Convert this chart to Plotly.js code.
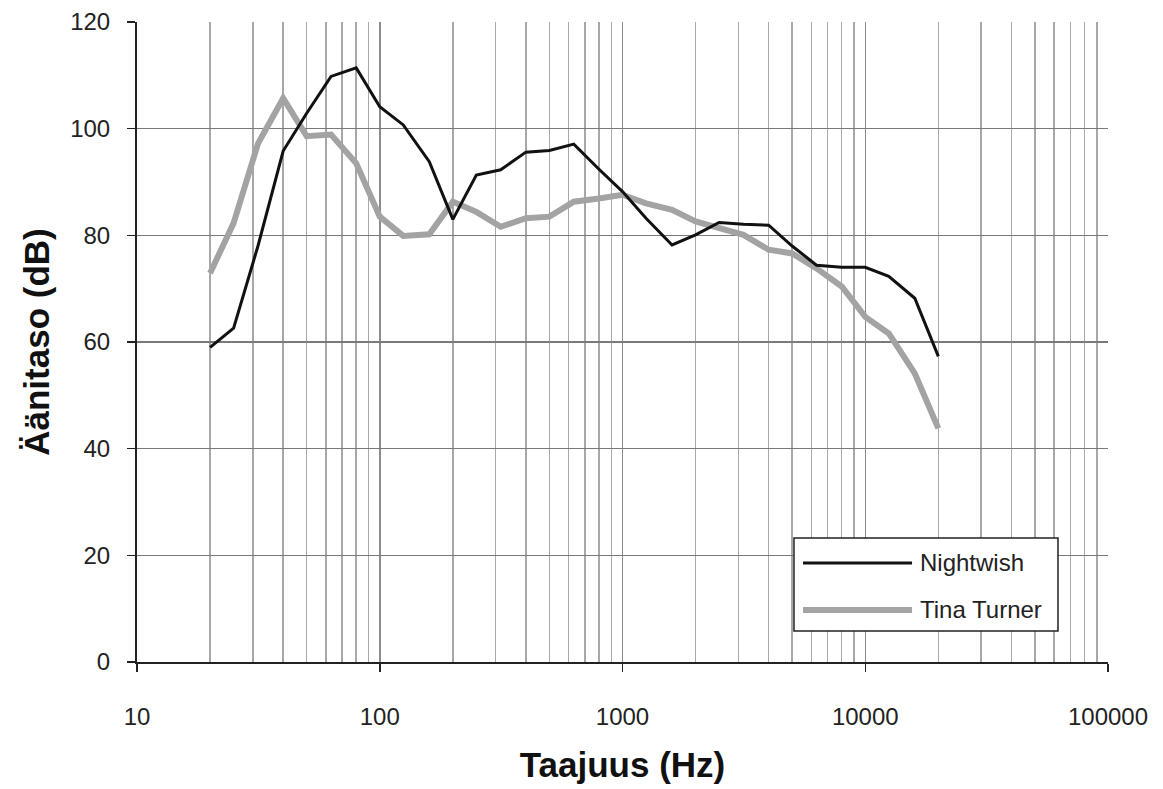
<!DOCTYPE html>
<html>
<head>
<meta charset="utf-8">
<script src="https://cdn.plot.ly/plotly-3.0.1.min.js"></script>
<style>html,body{margin:0;padding:0;background:#fff;}#chart{width:1163px;height:789px;}</style>
</head>
<body>
<div id="chart"></div>
<script>
// Third-octave band centre frequencies (Hz)
const frequencies = [20, 25, 31.5, 40, 50, 63, 80, 100, 125, 160, 200, 250, 315, 400, 500, 630, 800, 1000, 1250, 1600, 2000, 2500, 3150, 4000, 5000, 6300, 8000, 10000, 12500, 16000, 20000];
// Sound level (dB)
const nightwish = [59, 62.6, 78, 95.8, 102.9, 109.8, 111.4, 104.1, 100.7, 93.8, 83, 91.3, 92.3, 95.6, 95.9, 97.1, 92.4, 88.2, 83.2, 78.2, 80.1, 82.4, 82.1, 81.9, 78, 74.4, 74, 74, 72.3, 68.2, 57.3];
const tinaTurner = [72.9, 82.3, 97.2, 105.7, 98.6, 98.9, 93.5, 83.5, 79.9, 80.2, 86.3, 84.4, 81.6, 83.2, 83.5, 86.3, 86.9, 87.6, 86, 84.8, 82.6, 81.5, 80.1, 77.3, 76.6, 73.8, 70.4, 64.7, 61.6, 54.1, 43.8];
const seriesNames = ["Nightwish", "Tina Turner"];
const xTickVals = [10, 100, 1000, 10000, 100000];
const xTickText = ["10", "100", "1000", "10000", "100000"];

const FONT = "Liberation Sans, Arial, sans-serif";

const traces = [
  {x: frequencies, y: tinaTurner, name: seriesNames[1], type: "scatter", mode: "lines",
   line: {color: "#a3a3a3", width: 6}},
  {x: frequencies, y: nightwish, name: seriesNames[0], type: "scatter", mode: "lines",
   line: {color: "#111111", width: 3}}
];

// custom legend (paper coordinates)
const lx0 = 0.6766, lx1 = 0.9485, ly0 = 0.0484, ly1 = 0.1938;
const shapes = [
  {type: "rect", xref: "paper", yref: "paper", x0: lx0, x1: lx1, y0: ly0, y1: ly1,
   line: {color: "#222", width: 1.5}, fillcolor: "#ffffff", layer: "above"},
  {type: "line", xref: "paper", yref: "paper", x0: 0.6859, x1: 0.7982, y0: 0.1547, y1: 0.1547,
   line: {color: "#111111", width: 3}, layer: "above"},
  {type: "line", xref: "paper", yref: "paper", x0: 0.6859, x1: 0.7982, y0: 0.0813, y1: 0.0813,
   line: {color: "#a3a3a3", width: 6}, layer: "above"}
];
const annotations = [
  {xref: "paper", yref: "paper", x: 0.8043, y: 0.1547, xanchor: "left", yanchor: "middle",
   text: seriesNames[0], showarrow: false, font: {family: FONT, size: 24, color: "#222"}},
  {xref: "paper", yref: "paper", x: 0.8043, y: 0.0813, xanchor: "left", yanchor: "middle",
   text: seriesNames[1], showarrow: false, font: {family: FONT, size: 24, color: "#222"}}
];

const layout = {
  width: 1163, height: 789,
  margin: {l: 137, r: 55, t: 22, b: 127},
  paper_bgcolor: "#ffffff", plot_bgcolor: "#ffffff",
  showlegend: false,
  font: {family: FONT, color: "#222"},
  xaxis: {
    type: "log", range: [1, 5],
    tickvals: xTickVals, ticktext: xTickText,
    ticks: "outside", ticklen: 8, tickwidth: 1.5, tickcolor: "#222",
    ticklabelstandoff: 24,
    tickfont: {family: FONT, size: 24, color: "#222"},
    showgrid: true, gridcolor: "#8c8c8c", gridwidth: 1.5,
    minor: {dtick: "D1", showgrid: true, gridcolor: "#a8a8a8", gridwidth: 1.5, ticks: ""},
    showline: true, linecolor: "#222", linewidth: 2,
    zeroline: false,
    title: {text: "Taajuus (Hz)", standoff: 24, font: {family: FONT, size: 35, color: "#111", weight: "bold"}}
  },
  yaxis: {
    range: [0, 120], dtick: 20, tick0: 0,
    ticks: "outside", ticklen: 8, tickwidth: 1.5, tickcolor: "#222",
    ticklabelstandoff: 12,
    tickfont: {family: FONT, size: 24, color: "#222"},
    showgrid: true, gridcolor: "#7a7a7a", gridwidth: 1.5,
    showline: true, linecolor: "#222", linewidth: 2,
    zeroline: false,
    title: {text: "Äänitaso (dB)", standoff: 10, font: {family: FONT, size: 35, color: "#111", weight: "bold"}}
  },
  shapes: shapes,
  annotations: annotations
};

Plotly.newPlot("chart", traces, layout, {displayModeBar: false, staticPlot: true});
</script>
</body>
</html>
